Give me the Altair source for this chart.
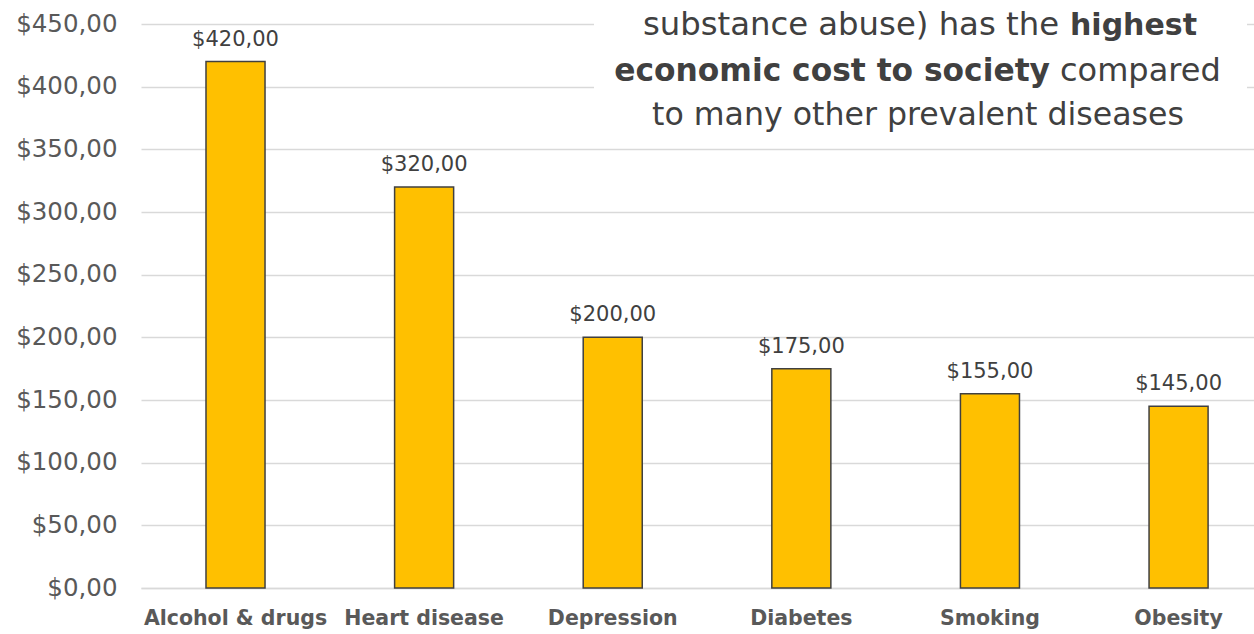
import altair as alt
import pandas as pd

# Annual economic cost per condition (USD, billions)
categories = ["Alcohol & drugs", "Heart disease", "Depression", "Diabetes", "Smoking", "Obesity"]
costs = [420, 320, 200, 175, 155, 145]

# Call-out text, split into regular / bold runs
line1_regular = "substance abuse) has the"
line1_bold = "highest"
line2_bold = "economic cost to society"
line2_regular = "compared"
line3_regular = "to many other prevalent diseases"

df = pd.DataFrame({"category": categories, "cost": costs})

FONT = "DejaVu Sans"
GREY = "#595959"
DARK = "#404040"

money = "'$' + replace(format(datum.value, '.2f'), '.', ',')"

x_enc = alt.X(
    "category:N",
    sort=categories,
    scale=alt.Scale(paddingInner=0.687, paddingOuter=0.294, align=0.586),
    axis=alt.Axis(
        title=None, labelAngle=0, ticks=False, domainColor="#d9d9d9", domainWidth=1.5,
        labelFont=FONT, labelFontSize=20.5, labelFontWeight="bold", labelColor=GREY,
        labelPadding=20, labelLimit=400,
    ),
)
y_enc = alt.Y(
    "cost:Q",
    scale=alt.Scale(domain=[0, 450], nice=False),
    axis=alt.Axis(
        title=None, values=list(range(0, 451, 50)), domain=False, ticks=False,
        labelExpr=money, labelFont=FONT, labelFontSize=24.5, labelColor=GREY,
        labelPadding=24, gridColor="#d9d9d9", gridWidth=1.5,
    ),
)

base = alt.Chart(df)

bars = base.mark_bar(color="#FFC000", stroke=DARK, strokeWidth=1.5).encode(x=x_enc, y=y_enc)

values = base.transform_calculate(
    label="'$' + replace(format(datum.cost, '.2f'), '.', ',')"
).mark_text(
    font=FONT, fontSize=21, color=DARK, baseline="alphabetic", dy=-16
).encode(x=x_enc, y=y_enc, text="label:N")

one = alt.Data(values=[{"k": 1}])

backdrop = alt.Chart(one).mark_rect(color="white").encode(
    x=alt.value(453), x2=alt.value(1106), y=alt.value(-24), y2=alt.value(111)
)


def run(text, x, y, weight, align, size):
    return alt.Chart(one).mark_text(
        font=FONT, fontSize=size, color=DARK, fontWeight=weight, align=align,
        baseline="alphabetic",
    ).encode(x=alt.value(x), y=alt.value(y), text=alt.value(text))


notes = [
    run(line1_regular, 918, 11, "normal", "right", 32.3),
    run(line1_bold, 929, 11, "bold", "left", 30),
    run(line2_bold, 909, 57, "bold", "right", 31.3),
    run(line2_regular, 919, 57, "normal", "left", 32),
    run(line3_regular, 777, 101, "normal", "center", 31.6),
]

chart = alt.layer(bars, values, backdrop, *notes).properties(
    width=1113,
    height=564,
    autosize=alt.AutoSizeParams(type="none"),
    padding={"left": 141, "top": 24, "right": 0, "bottom": 46},
).configure_view(stroke=None)

chart.save("out.html", embed_options={"renderer": "svg", "actions": False})
